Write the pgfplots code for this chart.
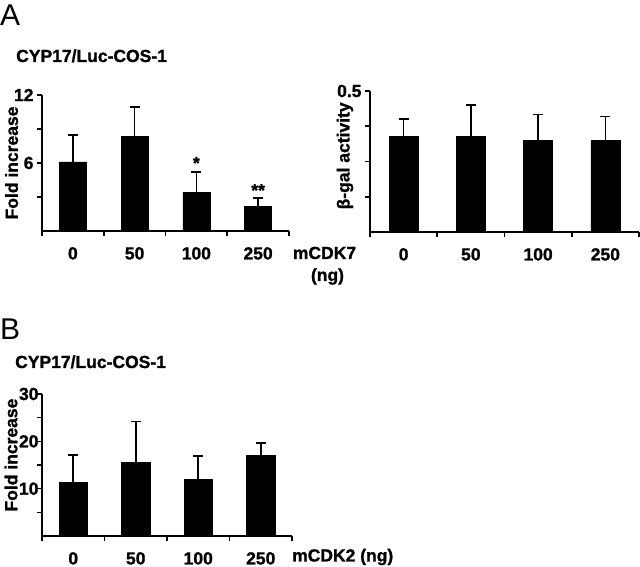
\documentclass[border=0pt]{standalone}
\usepackage{fontspec}
\setmainfont{Liberation Sans}
\newfontfamily\heavy[FakeBold=1.2]{Liberation Sans Bold}
\usepackage{pgfplots}
\pgfplotsset{compat=1.18}
\newcommand\f{\heavy\fontsize{17.5}{19}\selectfont}
\pgfplotsset{mybar/.style={
  scale only axis,
  axis lines=left, axis line style={-, line width=1.6pt},
  xmin=-0.5, xmax=3.5, ymin=0,
  xtick={0,1,2,3}, xticklabels={0,50,100,250},
  minor xtick={-0.5,0.5,1.5,2.5,3.5},
  major x tick style={draw=none},
  tick align=outside, major tick length=5pt, minor tick length=5pt,
  tick style={black, line width=1.6pt},
  ticklabel style={font=\f},
  label style={font=\f},
  xticklabel style={inner sep=1pt, yshift=-10pt},
  ybar, clip=false,
}}
\pgfplotsset{errbar/.style={fill=black, draw=black,
  error bars/.cd, y dir=plus, y explicit,
  error bar style={line width=1.6pt, black},
  error mark options={line width=1.6pt, mark size=5pt, black, rotate=90}}}
\begin{document}
\begin{tikzpicture}
\path[use as bounding box] (0,0) rectangle (640pt,567pt);
% Panel A left
\begin{axis}[mybar, at={(42pt,336pt)}, anchor=south west, width=247pt, height=136pt,
  ymax=12, ytick={3,6,9,12}, yticklabels={,6,,12}, bar width=0.435,
  ylabel={Fold increase}, ylabel style={at={(axis description cs:-0.123,0.5)}, anchor=center}]
\addplot[errbar] table[x=x, y=y, y error=e] {
x y e
0 6.09 2.38
1 8.38 2.56
2 3.44 1.76
3 2.20 0.70
};
\node[font=\f, anchor=center] at (axis cs:2,6.0) {*};
\node[font=\f, anchor=center] at (axis cs:3,3.6) {**};
\end{axis}
% Panel A right
\begin{axis}[mybar, at={(370pt,335pt)}, anchor=south west, width=269pt, height=141pt,
  ymax=0.5, ytick={0.125,0.25,0.375,0.5}, yticklabels={,,,0.5}, bar width=0.43,
  ylabel={β-gal activity}, ylabel style={at={(axis description cs:-0.093,0.54)}, anchor=center}]
\addplot[errbar] table[x=x, y=y, y error=e] {
x y e
0 0.340 0.060
1 0.340 0.110
2 0.324 0.093
3 0.324 0.085
};
\end{axis}
% Panel B
\begin{axis}[mybar, at={(42pt,31pt)}, anchor=south west, width=250pt, height=142pt,
  ymax=30, ytick={5,10,15,20,25,30}, yticklabels={,10,,20,,30}, bar width=0.45,
  yticklabel style={xshift=5pt},
  ylabel={Fold increase}, ylabel style={at={(axis description cs:-0.124,0.57)}, anchor=center}]
\addplot[errbar] table[x=x, y=y, y error=e] {
x y e
0 11.3 5.8
1 15.5 8.7
2 11.9 5.0
3 17.1 2.6
};
\end{axis}
\node[anchor=base west, inner sep=0, font=\fontsize{30}{30}\selectfont] at (0pt,541pt) {A};
\node[anchor=base west, inner sep=0, font=\fontsize{30}{30}\selectfont] at (0pt,227.5pt) {B};
\node[anchor=base west, inner sep=0, font=\f] at (16pt,505pt) {CYP17/Luc-COS-1};
\node[anchor=base west, inner sep=0, font=\f] at (15pt,199pt) {CYP17/Luc-COS-1};
\node[anchor=base, inner sep=0, font=\f] at (324.5pt,308pt) {mCDK7};
\node[anchor=base, inner sep=0, font=\f] at (327.5pt,286pt) {(ng)};
\node[anchor=base west, inner sep=0, font=\f] at (292pt,5.5pt) {mCDK2 (ng)};
\end{tikzpicture}
\end{document}
